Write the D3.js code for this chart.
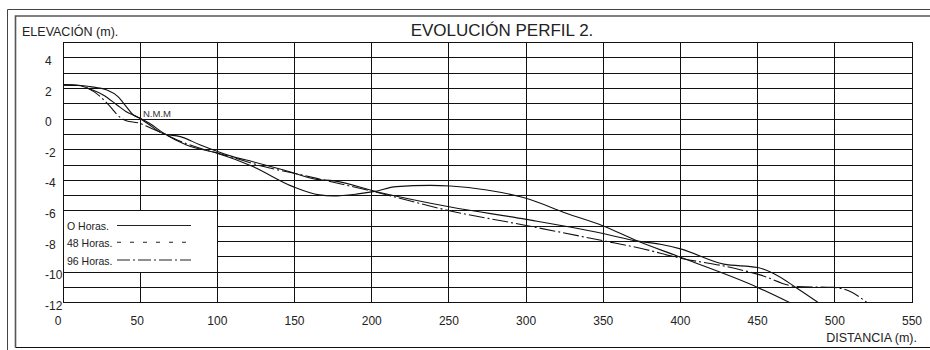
<!DOCTYPE html>
<html>
<head>
<meta charset="utf-8">
<script src="https://cdn.jsdelivr.net/npm/d3@7"></script>
<style>
  html, body { margin: 0; padding: 0; background: #fff; }
  svg { display: block; font-family: "Liberation Sans", Arial, sans-serif; }
</style>
</head>
<body>
<svg id="chart" width="930" height="350"></svg>
<script>
// ---------- data ----------
const chartTitle = "EVOLUCIÓN PERFIL 2.";
const yTitle = "ELEVACIÓN (m).";
const xTitle = "DISTANCIA (m).";
const seaLabel = "N.M.M";

const xTicks = [0, 50, 100, 150, 200, 250, 300, 350, 400, 450, 500, 550];
const yTicks = [4, 2, 0, -2, -4, -6, -8, -10, -12];

const seriesNames = ["O Horas.", "48 Horas.", "96 Horas."];

// 0 Horas
const dist0 = [0, 10, 17.5, 28.5, 35.6, 41, 45.6, 50, 56, 65, 80, 100, 123, 149, 166, 175, 190, 201, 216, 238, 251, 274.5, 300, 326, 350, 370.6, 400, 450, 471];
const elev0 = [2.24, 2.22, 2.13, 1.9, 1.47, 0.82, 0.27, 0.06, -0.27, -0.9, -1.69, -2.23, -3.1, -4.41, -4.95, -5.02, -4.9, -4.74, -4.41, -4.33, -4.37, -4.63, -5.17, -6.15, -6.98, -7.9, -9.03, -11.0, -12.0];

// 48 Horas
const dist48 = [0, 10, 18, 26, 35, 41, 48, 55, 65, 76, 89, 110, 123, 143, 166.5, 173, 203, 251, 300, 354, 370, 387, 400, 428, 450, 460, 475.5, 489];
const elev48 = [2.24, 2.2, 1.95, 1.58, 0.93, 0.49, 0.16, -0.3, -0.95, -1.14, -1.69, -2.45, -2.78, -3.32, -3.97, -4.0, -4.74, -5.74, -6.55, -7.57, -7.94, -8.18, -8.48, -9.48, -9.7, -10.07, -11.05, -11.97];

// 96 Horas
const dist96 = [0, 10, 20, 27, 32, 35, 41, 49, 55, 65, 80, 110, 130, 155, 173, 197, 251, 300, 350, 374, 400, 430, 451.5, 475.5, 499, 510, 521];
const elev96 = [2.24, 2.2, 1.8, 1.2, 0.66, 0.3, -0.1, -0.25, -0.5, -0.95, -1.6, -2.5, -3.1, -3.65, -4.08, -4.63, -6.0, -6.95, -7.95, -8.44, -9.09, -9.64, -10.18, -10.95, -11.0, -11.27, -12.0];

// ---------- drawing ----------
const svg = d3.select("#chart");
const x = d3.scaleLinear().domain([0, 550]).range([63, 912]);
const y = d3.scaleLinear().domain([-12, 5]).range([302.7, 42.7]);

// outer drawing frame
const frame = svg.append("g").attr("fill", "none");
frame.append("path").attr("d", "M7.5,350 V9.5 H930").attr("stroke", "#444").attr("stroke-width", 1);
frame.append("path").attr("d", "M15.5,347.5 V16 H930").attr("stroke", "#555").attr("stroke-width", 1.6);
frame.append("path").attr("d", "M15.5,347.5 H930").attr("stroke", "#111").attr("stroke-width", 1);

// titles
svg.append("text").attr("x", 502).attr("y", 36).attr("text-anchor", "middle")
  .attr("font-size", 17).attr("fill", "#222").text(chartTitle);
svg.append("text").attr("x", 22).attr("y", 35.5)
  .attr("font-size", 12.5).attr("fill", "#222").text(yTitle);
svg.append("text").attr("x", 917).attr("y", 342).attr("text-anchor", "end")
  .attr("font-size", 12.5).attr("fill", "#222").text(xTitle);

// grid
const grid = svg.append("g").attr("stroke", "#111").attr("stroke-width", 1).attr("shape-rendering", "crispEdges");
grid.selectAll("line.h").data(d3.range(-11, 5)).join("line")
  .attr("class", "h")
  .attr("x1", x(0)).attr("x2", x(550))
  .attr("y1", d => y(d)).attr("y2", d => y(d));
grid.selectAll("line.v").data(xTicks.slice(1, -1)).join("line")
  .attr("class", "v")
  .attr("x1", d => x(d)).attr("x2", d => x(d))
  .attr("y1", y(5)).attr("y2", y(-12));
grid.append("rect")
  .attr("x", x(0)).attr("y", y(5))
  .attr("width", x(550) - x(0)).attr("height", y(-12) - y(5))
  .attr("fill", "none");

// tick labels
svg.append("g").selectAll("text").data(yTicks).join("text")
  .attr("x", 45).attr("y", d => y(d) + 7)
  .attr("font-size", 12).attr("fill", "#222")
  .text(d => d);
svg.append("g").selectAll("text").data(xTicks).join("text")
  .attr("x", d => x(d) + (d === 0 ? -5 : (d === 50 ? -3 : 0)))
  .attr("y", 324.5).attr("text-anchor", "middle")
  .attr("font-size", 12).attr("fill", "#222")
  .text(d => d);

// legend box
const lg = svg.append("g");
lg.append("rect")
  .attr("x", x(0)).attr("y", y(-6))
  .attr("width", x(100) - x(0)).attr("height", y(-10) - y(-6))
  .attr("fill", "#fff").attr("stroke", "#111").attr("stroke-width", 1)
  .attr("shape-rendering", "crispEdges");
const legendStyles = [null, "4,9", "13,3,2,3"];
const legendRowsY = [230, 246.7, 265];
const legendLineY = [225.5, 242.3, 260];
seriesNames.forEach((name, i) => {
  lg.append("text").attr("x", 67).attr("y", legendRowsY[i])
    .attr("font-size", 10.5).attr("fill", "#222").text(name);
  lg.append("line").attr("x1", 117).attr("x2", 191)
    .attr("y1", legendLineY[i]).attr("y2", legendLineY[i])
    .attr("stroke", "#222").attr("stroke-width", 1.1)
    .attr("stroke-dasharray", legendStyles[i]);
});

// profile lines
const line = d3.line().x(d => x(d[0])).y(d => y(d[1])).curve(d3.curveMonotoneX);
const profiles = [
  { d: d3.zip(dist0, elev0), dash: null },
  { d: d3.zip(dist48, elev48), dash: null },
  { d: d3.zip(dist96, elev96), dash: "16,3,2,3" }
];
svg.append("g").selectAll("path").data(profiles).join("path")
  .attr("d", p => line(p.d))
  .attr("fill", "none").attr("stroke", "#111").attr("stroke-width", 1.1)
  .attr("stroke-dasharray", p => p.dash);

// sea level label
svg.append("text").attr("x", 143).attr("y", 117.3)
  .attr("font-size", 9.5).attr("fill", "#333").text(seaLabel);
</script>
</body>
</html>
